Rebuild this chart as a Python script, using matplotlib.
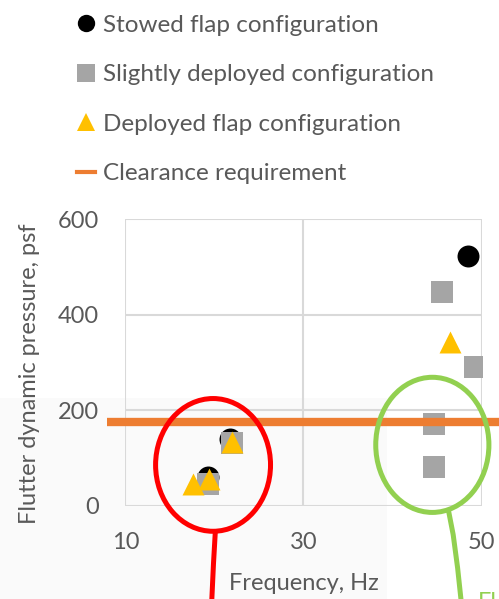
import matplotlib.pyplot as plt
from matplotlib.patches import Ellipse, Rectangle
from matplotlib.lines import Line2D

plt.rcParams["font.family"] = ["Lato", "DejaVu Sans"]

# data
stowed_freq = [19.3, 21.8, 48.5]
stowed_q = [61, 140, 524]
slight_freq = [19.3, 22.0, 44.7, 44.7, 45.6, 49.3]
slight_q = [46, 132, 81, 171, 448, 290]
deployed_freq = [17.55, 19.4, 21.95, 46.4]
deployed_q = [47, 56, 134, 344]
clearance_q = 175
clearance_span = [8, 52]

xticks = [10, 30, 50]
yticks = [0, 200, 400, 600]

TXT = "#595959"
GRID = "#d9d9d9"

fig = plt.figure(figsize=(4.99, 5.99), dpi=100)
# light grey backdrop bit from the screenshot
fig.patches.append(Rectangle((0, 0), 387 / 499, 201 / 599, transform=fig.transFigure,
                             facecolor="#fafafa", edgecolor="none", zorder=-5))
ax = fig.add_axes([0.2511, 0.1553, 0.7142, 0.4783])
ax.patch.set_alpha(0)

ms = 250
ax.scatter(stowed_freq, stowed_q, s=ms, marker="o", color="black", linewidths=0, zorder=3)
ax.scatter(slight_freq, slight_q, s=ms, marker="s", color="#a5a5a5", linewidths=0, zorder=4)
ax.scatter(deployed_freq, deployed_q, s=ms, marker="^", color="#ffc000", linewidths=0, zorder=5)
ax.plot(clearance_span, [clearance_q, clearance_q], color="#ed7d31", lw=6, zorder=6,
        clip_on=False, solid_capstyle="butt")

ax.set_xlim(10, 50)
ax.set_ylim(0, 600)
ax.set_xticks(xticks)
ax.set_yticks(yticks)
ax.grid(True, color=GRID, lw=1.5, zorder=1)
ax.set_axisbelow(True)
for s in ax.spines.values():
    s.set_visible(False)
ax.tick_params(length=0, labelsize=17, labelcolor=TXT, pad=19)

ax.set_xlabel("Frequency, Hz", fontsize=17, color=TXT, va="center")
ax.xaxis.set_label_coords(0.5, -0.269)
ax.set_ylabel("Flutter dynamic pressure, psf", fontsize=17, color=TXT, va="center")
ax.yaxis.set_label_coords(-0.270, 0.461)

# annotation circles
ax.add_patch(Ellipse((19.85, 86), 12.9, 278, fill=False, edgecolor="#ff0000", lw=3.6,
                     clip_on=False, zorder=7))
ax.plot([20.1, 19.9, 19.7], [-55, -120, -200], color="#ff0000", lw=3.6, clip_on=False, zorder=7)
ax.add_patch(Ellipse((44.46, 128), 12.7, 283, fill=False, edgecolor="#92d050", lw=3.6,
                     clip_on=False, zorder=7))
ax.plot([46.3, 46.8, 47.3, 47.7], [-12, -60, -130, -200], color="#92d050", lw=3.6,
        clip_on=False, zorder=7)
fig.text(0.958, 0.0117, "Fl", color="#92d050", fontsize=17, va="top", ha="left")

handles = [
    Line2D([], [], ls="none", marker="o", ms=12.5, color="black", mew=0),
    Line2D([], [], ls="none", marker="s", ms=12.5, color="#a5a5a5", mew=0),
    Line2D([], [], ls="none", marker="^", ms=12.5, color="#ffc000", mew=0),
    Line2D([], [], color="#ed7d31", lw=3),
]
labels = ["Stowed flap configuration", "Slightly deployed configuration",
          "Deployed flap configuration", "Clearance requirement"]
leg = fig.legend(handles, labels, loc="upper left", bbox_to_anchor=(0.155, 0.975),
                 frameon=False, fontsize=17.5, handlelength=0.72, handletextpad=0.35,
                 labelspacing=1.17, borderpad=0, borderaxespad=0)
for t in leg.get_texts():
    t.set_color(TXT)

fig.savefig("out.png", dpi=100)
